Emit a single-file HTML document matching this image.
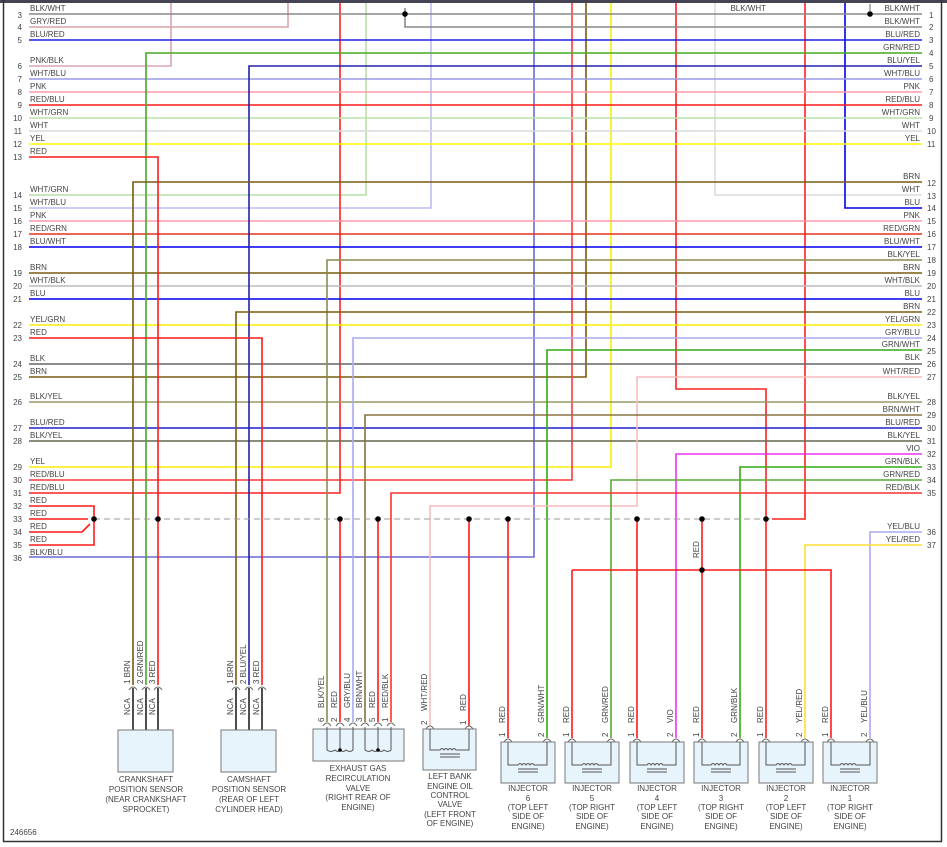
<!DOCTYPE html>
<html><head><meta charset="utf-8"><style>
body{margin:0;background:#fff}
svg{display:block}
text{font-family:"Liberation Sans",sans-serif;font-size:8px;fill:#444}
.w{fill:none;stroke-width:1.6}
.n{text-anchor:end}
.c{text-anchor:middle}
.box{fill:#e8f4fb;stroke:#777;stroke-width:1}
.arc{fill:none;stroke:#666;stroke-width:1}
</style></head><body>
<svg width="947" height="847" viewBox="0 0 947 847" xmlns="http://www.w3.org/2000/svg">
<rect x="0" y="0" width="947" height="847" fill="#fff"/>
<path d="M0 1.5H947" stroke="#445" stroke-width="3"/>
<path d="M3.5 0V842M941.5 0V842M3 841.5H942" stroke="#333" stroke-width="1.5" fill="none"/>

<!-- verticals from top -->
<g class="w">
<path d="M29 27H288V3" stroke="#d9a3a8"/>
<path d="M29 66H171V3" stroke="#d9a3b8"/>
<path d="M29 195H366V3" stroke="#b6dfa6"/>
<path d="M29 208H431V3" stroke="#bcbcf6"/>
<path d="M29 377H586V3" stroke="#7a5a10"/>
<path d="M29 467H611V3" stroke="#ffee00"/>
<path d="M29 480H572V3" stroke="#ff3a3a"/>
<path d="M29 493H340V3" stroke="#ff2020"/>
<path d="M29 557H534V3" stroke="#6a6ad8"/>
<path d="M715 3V195H922" stroke="#dcdcdc"/>
<path d="M845 3V208H922" stroke="#0000ee"/>
<path d="M676 3V389H766V738" stroke="#ff2020"/>
<path d="M805 3V519H772" stroke="#ff2020"/>
<path d="M405 8V27H922" stroke="#888"/>

<!-- through lines -->
<path d="M29 14H922" stroke="#888"/>
<path d="M29 40H922" stroke="#2020e0"/>
<path d="M29 79H922" stroke="#9a9ae6"/>
<path d="M29 92H922" stroke="#ff99aa"/>
<path d="M29 105H922" stroke="#ff1a1a"/>
<path d="M29 118H922" stroke="#b8e2a8"/>
<path d="M29 131H922" stroke="#dadada"/>
<path d="M29 144H922" stroke="#ffff00"/>
<path d="M29 221H922" stroke="#ff99aa"/>
<path d="M29 234H922" stroke="#e83020"/>
<path d="M29 247H922" stroke="#0000ee"/>
<path d="M29 273H922" stroke="#7a5a10"/>
<path d="M29 286H922" stroke="#bbb"/>
<path d="M29 299H922" stroke="#0000ee"/>
<path d="M29 325H922" stroke="#ffee00"/>
<path d="M29 364H922" stroke="#666"/>
<path d="M29 402H922" stroke="#999966"/>
<path d="M29 428H922" stroke="#2020d0"/>
<path d="M29 441H922" stroke="#666650"/>

<!-- right-only from verticals down -->
<path d="M146 685V53H922" stroke="#44aa22"/>
<path d="M249 685V66H922" stroke="#2222aa"/>
<path d="M133 685V182H922" stroke="#7a5a10"/>
<path d="M327 722V260H922" stroke="#8a8a50"/>
<path d="M236 685V312H922" stroke="#7a5a10"/>
<path d="M353 722V338H922" stroke="#aaaaee"/>
<path d="M547 738V350H922" stroke="#33aa11"/>
<path d="M922 377H637V506H430V726" stroke="#f5bcbc"/>
<path d="M365 722V415H922" stroke="#8a7040"/>
<path d="M676 738V454H922" stroke="#ee33ee"/>
<path d="M740 738V467H922" stroke="#33aa11"/>
<path d="M611 738V480H922" stroke="#55aa33"/>
<path d="M391 722V493H922" stroke="#ff3030"/>
<path d="M922 532H870V738" stroke="#aaaaee"/>
<path d="M922 545H805V738" stroke="#ffdd33"/>

<!-- red bus -->
<path d="M29 157H158V685" stroke="#ff1a1a"/>
<path d="M29 338H262V685" stroke="#ff1a1a"/>
<path d="M29 506H94V545H29M29 519H88M29 532H82L90 524" stroke="#ff1a1a"/>
<path d="M340 519V722M378 519V722M469 519V726M508 519V738M637 519V738M702 519V738M572 570H831V738M572 570V738" stroke="#ff1a1a"/>
</g>
<path d="M94 519H770" stroke="#999" stroke-width="1" stroke-dasharray="6,4"/>
<g fill="#000">
<circle cx="94" cy="519" r="2.8"/><circle cx="158" cy="519" r="2.8"/><circle cx="340" cy="519" r="2.8"/><circle cx="378" cy="519" r="2.8"/><circle cx="469" cy="519" r="2.8"/><circle cx="508" cy="519" r="2.8"/><circle cx="637" cy="519" r="2.8"/><circle cx="702" cy="519" r="2.8"/><circle cx="766" cy="519" r="2.8"/><circle cx="702" cy="570" r="2.8"/><circle cx="405" cy="14" r="2.8"/><circle cx="870" cy="14" r="2.8"/>
</g>
<path d="M870 4V11" stroke="#666"/>

<!-- left labels -->
<g>
<text x="30" y="11">BLK/WHT</text><text x="30" y="24">GRY/RED</text><text x="30" y="37">BLU/RED</text>
<text x="30" y="63">PNK/BLK</text><text x="30" y="76">WHT/BLU</text><text x="30" y="89">PNK</text><text x="30" y="102">RED/BLU</text><text x="30" y="115">WHT/GRN</text><text x="30" y="128">WHT</text><text x="30" y="141">YEL</text><text x="30" y="154">RED</text>
<text x="30" y="192">WHT/GRN</text><text x="30" y="205">WHT/BLU</text><text x="30" y="218">PNK</text><text x="30" y="231">RED/GRN</text><text x="30" y="244">BLU/WHT</text>
<text x="30" y="270">BRN</text><text x="30" y="283">WHT/BLK</text><text x="30" y="296">BLU</text><text x="30" y="322">YEL/GRN</text><text x="30" y="335">RED</text>
<text x="30" y="361">BLK</text><text x="30" y="374">BRN</text><text x="30" y="399">BLK/YEL</text><text x="30" y="425">BLU/RED</text><text x="30" y="438">BLK/YEL</text>
<text x="30" y="464">YEL</text><text x="30" y="477">RED/BLU</text><text x="30" y="490">RED/BLU</text><text x="30" y="503">RED</text><text x="30" y="516">RED</text><text x="30" y="529">RED</text><text x="30" y="542">RED</text><text x="30" y="555">BLK/BLU</text>
</g>
<g class="n">
<text class="n" x="22" y="3">2</text><text class="n" x="22" y="18">3</text><text class="n" x="22" y="30">4</text><text class="n" x="22" y="43">5</text>
<text class="n" x="22" y="69">6</text><text class="n" x="22" y="82">7</text><text class="n" x="22" y="95">8</text><text class="n" x="22" y="108">9</text><text class="n" x="22" y="121">10</text><text class="n" x="22" y="134">11</text><text class="n" x="22" y="147">12</text><text class="n" x="22" y="160">13</text>
<text class="n" x="22" y="198">14</text><text class="n" x="22" y="211">15</text><text class="n" x="22" y="224">16</text><text class="n" x="22" y="237">17</text><text class="n" x="22" y="250">18</text>
<text class="n" x="22" y="276">19</text><text class="n" x="22" y="289">20</text><text class="n" x="22" y="302">21</text><text class="n" x="22" y="328">22</text><text class="n" x="22" y="341">23</text>
<text class="n" x="22" y="367">24</text><text class="n" x="22" y="380">25</text><text class="n" x="22" y="405">26</text><text class="n" x="22" y="431">27</text><text class="n" x="22" y="444">28</text>
<text class="n" x="22" y="470">29</text><text class="n" x="22" y="483">30</text><text class="n" x="22" y="496">31</text><text class="n" x="22" y="509">32</text><text class="n" x="22" y="522">33</text><text class="n" x="22" y="535">34</text><text class="n" x="22" y="548">35</text><text class="n" x="22" y="561">36</text>
</g>
<!-- right labels -->
<g>
<text class="n" x="920" y="11">BLK/WHT</text><text class="n" x="920" y="24">BLK/WHT</text><text class="n" x="920" y="37">BLU/RED</text><text class="n" x="920" y="50">GRN/RED</text><text class="n" x="920" y="63">BLU/YEL</text><text class="n" x="920" y="76">WHT/BLU</text><text class="n" x="920" y="89">PNK</text><text class="n" x="920" y="102">RED/BLU</text><text class="n" x="920" y="115">WHT/GRN</text><text class="n" x="920" y="128">WHT</text><text class="n" x="920" y="141">YEL</text>
<text class="n" x="920" y="179">BRN</text><text class="n" x="920" y="192">WHT</text><text class="n" x="920" y="205">BLU</text><text class="n" x="920" y="218">PNK</text><text class="n" x="920" y="231">RED/GRN</text><text class="n" x="920" y="244">BLU/WHT</text><text class="n" x="920" y="257">BLK/YEL</text><text class="n" x="920" y="270">BRN</text><text class="n" x="920" y="283">WHT/BLK</text><text class="n" x="920" y="296">BLU</text><text class="n" x="920" y="309">BRN</text><text class="n" x="920" y="322">YEL/GRN</text><text class="n" x="920" y="335">GRY/BLU</text><text class="n" x="920" y="347">GRN/WHT</text><text class="n" x="920" y="360">BLK</text><text class="n" x="920" y="374">WHT/RED</text>
<text class="n" x="920" y="399">BLK/YEL</text><text class="n" x="920" y="412">BRN/WHT</text><text class="n" x="920" y="425">BLU/RED</text><text class="n" x="920" y="438">BLK/YEL</text><text class="n" x="920" y="451">VIO</text><text class="n" x="920" y="464">GRN/BLK</text><text class="n" x="920" y="477">GRN/RED</text><text class="n" x="920" y="490">RED/BLK</text>
<text class="n" x="920" y="529">YEL/BLU</text><text class="n" x="920" y="542">YEL/RED</text>
<text class="n" x="766" y="11">BLK/WHT</text>
</g>
<g>
<text x="929" y="18">1</text><text x="929" y="30">2</text><text x="929" y="43">3</text><text x="929" y="56">4</text><text x="929" y="69">5</text><text x="929" y="82">6</text><text x="929" y="95">7</text><text x="929" y="108">8</text><text x="929" y="121">9</text><text x="927" y="134">10</text><text x="927" y="147">11</text>
<text x="927" y="186">12</text><text x="927" y="199">13</text><text x="927" y="211">14</text><text x="927" y="224">15</text><text x="927" y="237">16</text><text x="927" y="250">17</text><text x="927" y="263">18</text><text x="927" y="276">19</text><text x="927" y="289">20</text><text x="927" y="302">21</text><text x="927" y="315">22</text><text x="927" y="328">23</text><text x="927" y="341">24</text><text x="927" y="354">25</text><text x="927" y="367">26</text><text x="927" y="380">27</text>
<text x="927" y="405">28</text><text x="927" y="418">29</text><text x="927" y="431">30</text><text x="927" y="444">31</text><text x="927" y="457">32</text><text x="927" y="470">33</text><text x="927" y="483">34</text><text x="927" y="496">35</text><text x="927" y="535">36</text><text x="927" y="548">37</text>
</g>
<text transform="translate(699,558) rotate(-90)">RED</text>

<!-- Crankshaft -->
<g stroke="#222" stroke-width="1.6"><path d="M133 688V730M146 688V730M158 688V730M236 688V730M249 688V730M262 688V730"/></g>
<rect class="box" x="118" y="730" width="55" height="42"/>
<rect class="box" x="221" y="730" width="55" height="42"/>
<g class="arc">
<path d="M129 690Q133 684 137 690M142 690Q146 684 150 690M154 690Q158 684 162 690M232 690Q236 684 240 690M245 690Q249 684 253 690M258 690Q262 684 266 690"/>
<path d="M323 726Q327 720 331 726M336 726Q340 720 344 726M349 726Q353 720 357 726M361 726Q365 720 369 726M374 726Q378 720 382 726M387 726Q391 720 395 726M426 729Q430 723 434 729M465 729Q469 723 473 729"/>
<path d="M504 742Q508 736 512 742M543 742Q547 736 551 742M568 742Q572 736 576 742M607 742Q611 736 615 742M633 742Q637 736 641 742M672 742Q676 736 680 742M698 742Q702 736 706 742M736 742Q740 736 744 742M762 742Q766 736 770 742M801 742Q805 736 809 742M827 742Q831 736 835 742M866 742Q870 736 874 742"/>
</g>
<g>
<text transform="translate(130,684) rotate(-90)">1 BRN</text>
<text transform="translate(143,684) rotate(-90)">2 GRN/RED</text>
<text transform="translate(155,684) rotate(-90)">3 RED</text>
<text transform="translate(233,684) rotate(-90)">1 BRN</text>
<text transform="translate(246,684) rotate(-90)">2 BLU/YEL</text>
<text transform="translate(259,684) rotate(-90)">3 RED</text>
<text transform="translate(130,715) rotate(-90)">NCA</text><text transform="translate(143,715) rotate(-90)">NCA</text><text transform="translate(155,715) rotate(-90)">NCA</text>
<text transform="translate(233,715) rotate(-90)">NCA</text><text transform="translate(246,715) rotate(-90)">NCA</text><text transform="translate(259,715) rotate(-90)">NCA</text>
</g>
<g class="c">
<text class="c" x="146" y="782">CRANKSHAFT</text><text class="c" x="146" y="792">POSITION SENSOR</text><text class="c" x="146" y="802">(NEAR CRANKSHAFT</text><text class="c" x="146" y="812">SPROCKET)</text>
<text class="c" x="249" y="782">CAMSHAFT</text><text class="c" x="249" y="792">POSITION SENSOR</text><text class="c" x="249" y="802">(REAR OF LEFT</text><text class="c" x="249" y="812">CYLINDER HEAD)</text>
</g>

<!-- EGR -->
<rect class="box" x="313" y="729" width="91" height="32"/>
<path d="M327 727V750Q331 753 335 750Q338 753 340 750Q343 753 346 750Q350 753 353 750V727M340 727V750M365 727V750Q369 753 372 750Q375 753 378 750Q381 753 384 750Q388 753 391 750V727M378 727V750" fill="none" stroke="#555" stroke-width="1"/>
<circle cx="340" cy="750" r="1.8"/><circle cx="378" cy="750" r="1.8"/>
<g>
<text transform="translate(324,722) rotate(-90)">6</text><text transform="translate(324,708) rotate(-90)">BLK/YEL</text>
<text transform="translate(337,722) rotate(-90)">2</text><text transform="translate(337,708) rotate(-90)">RED</text>
<text transform="translate(350,722) rotate(-90)">4</text><text transform="translate(350,708) rotate(-90)">GRY/BLU</text>
<text transform="translate(362,722) rotate(-90)">3</text><text transform="translate(362,708) rotate(-90)">BRN/WHT</text>
<text transform="translate(375,722) rotate(-90)">5</text><text transform="translate(375,708) rotate(-90)">RED</text>
<text transform="translate(388,722) rotate(-90)">1</text><text transform="translate(388,708) rotate(-90)">RED/BLK</text>
</g>
<text class="c" x="358" y="771">EXHAUST GAS</text><text class="c" x="358" y="781">RECIRCULATION</text><text class="c" x="358" y="791">VALVE</text><text class="c" x="358" y="800">(RIGHT REAR OF</text><text class="c" x="358" y="810">ENGINE)</text>

<!-- Oil valve -->
<rect class="box" x="423" y="729" width="53" height="41"/>
<path d="M430 729V750H440Q442 747 444 750Q446 747 448 750Q450 747 452 750Q454 747 456 750H469V729M440 754H460M440 757H460" fill="none" stroke="#555" stroke-width="1"/>
<text transform="translate(427,725) rotate(-90)">2</text><text transform="translate(427,711) rotate(-90)">WHT/RED</text>
<text transform="translate(466,725) rotate(-90)">1</text><text transform="translate(466,711) rotate(-90)">RED</text>
<text class="c" x="450" y="779">LEFT BANK</text><text class="c" x="450" y="789">ENGINE OIL</text><text class="c" x="450" y="798">CONTROL</text><text class="c" x="450" y="807">VALVE</text><text class="c" x="450" y="817">(LEFT FRONT</text><text class="c" x="450" y="826">OF ENGINE)</text>

<!-- Injectors -->
<g fill="none" stroke="#555" stroke-width="1">
<rect class="box" x="501" y="742" width="54" height="41"/><rect class="box" x="565" y="742" width="54" height="41"/><rect class="box" x="630" y="742" width="54" height="41"/><rect class="box" x="694" y="742" width="54" height="41"/><rect class="box" x="759" y="742" width="54" height="41"/><rect class="box" x="823" y="742" width="54" height="41"/>
<path d="M508 742V765H518Q520 762 522 765Q524 762 526 765Q528 762 530 765Q532 762 534 765H547V742M518 769H538M518 772H538"/>
<path d="M572 742V765H582Q584 762 586 765Q588 762 590 765Q592 762 594 765Q596 762 598 765H611V742M582 769H602M582 772H602"/>
<path d="M637 742V765H647Q649 762 651 765Q653 762 655 765Q657 762 659 765Q661 762 663 765H676V742M647 769H667M647 772H667"/>
<path d="M702 742V765H711Q713 762 715 765Q717 762 719 765Q721 762 723 765Q725 762 727 765H740V742M711 769H731M711 772H731"/>
<path d="M766 742V765H776Q778 762 780 765Q782 762 784 765Q786 762 788 765Q790 762 792 765H805V742M776 769H796M776 772H796"/>
<path d="M831 742V765H840Q842 762 844 765Q846 762 848 765Q850 762 852 765Q854 762 856 765H870V742M840 769H860M840 772H860"/>
</g>
<g>
<text transform="translate(505,737) rotate(-90)">1</text><text transform="translate(505,723) rotate(-90)">RED</text>
<text transform="translate(544,737) rotate(-90)">2</text><text transform="translate(544,723) rotate(-90)">GRN/WHT</text>
<text transform="translate(569,737) rotate(-90)">1</text><text transform="translate(569,723) rotate(-90)">RED</text>
<text transform="translate(608,737) rotate(-90)">2</text><text transform="translate(608,723) rotate(-90)">GRN/RED</text>
<text transform="translate(634,737) rotate(-90)">1</text><text transform="translate(634,723) rotate(-90)">RED</text>
<text transform="translate(673,737) rotate(-90)">2</text><text transform="translate(673,723) rotate(-90)">VIO</text>
<text transform="translate(699,737) rotate(-90)">1</text><text transform="translate(699,723) rotate(-90)">RED</text>
<text transform="translate(737,737) rotate(-90)">2</text><text transform="translate(737,723) rotate(-90)">GRN/BLK</text>
<text transform="translate(763,737) rotate(-90)">1</text><text transform="translate(763,723) rotate(-90)">RED</text>
<text transform="translate(802,737) rotate(-90)">2</text><text transform="translate(802,723) rotate(-90)">YEL/RED</text>
<text transform="translate(828,737) rotate(-90)">1</text><text transform="translate(828,723) rotate(-90)">RED</text>
<text transform="translate(867,737) rotate(-90)">2</text><text transform="translate(867,723) rotate(-90)">YEL/BLU</text>
</g>
<g>
<text class="c" x="528" y="791">INJECTOR</text><text class="c" x="528" y="801">6</text><text class="c" x="528" y="810">(TOP LEFT</text><text class="c" x="528" y="819">SIDE OF</text><text class="c" x="528" y="829">ENGINE)</text>
<text class="c" x="592" y="791">INJECTOR</text><text class="c" x="592" y="801">5</text><text class="c" x="592" y="810">(TOP RIGHT</text><text class="c" x="592" y="819">SIDE OF</text><text class="c" x="592" y="829">ENGINE)</text>
<text class="c" x="657" y="791">INJECTOR</text><text class="c" x="657" y="801">4</text><text class="c" x="657" y="810">(TOP LEFT</text><text class="c" x="657" y="819">SIDE OF</text><text class="c" x="657" y="829">ENGINE)</text>
<text class="c" x="721" y="791">INJECTOR</text><text class="c" x="721" y="801">3</text><text class="c" x="721" y="810">(TOP RIGHT</text><text class="c" x="721" y="819">SIDE OF</text><text class="c" x="721" y="829">ENGINE)</text>
<text class="c" x="786" y="791">INJECTOR</text><text class="c" x="786" y="801">2</text><text class="c" x="786" y="810">(TOP LEFT</text><text class="c" x="786" y="819">SIDE OF</text><text class="c" x="786" y="829">ENGINE)</text>
<text class="c" x="850" y="791">INJECTOR</text><text class="c" x="850" y="801">1</text><text class="c" x="850" y="810">(TOP RIGHT</text><text class="c" x="850" y="819">SIDE OF</text><text class="c" x="850" y="829">ENGINE)</text>
</g>
<text x="10" y="835">246656</text>
</svg>
</body></html>
